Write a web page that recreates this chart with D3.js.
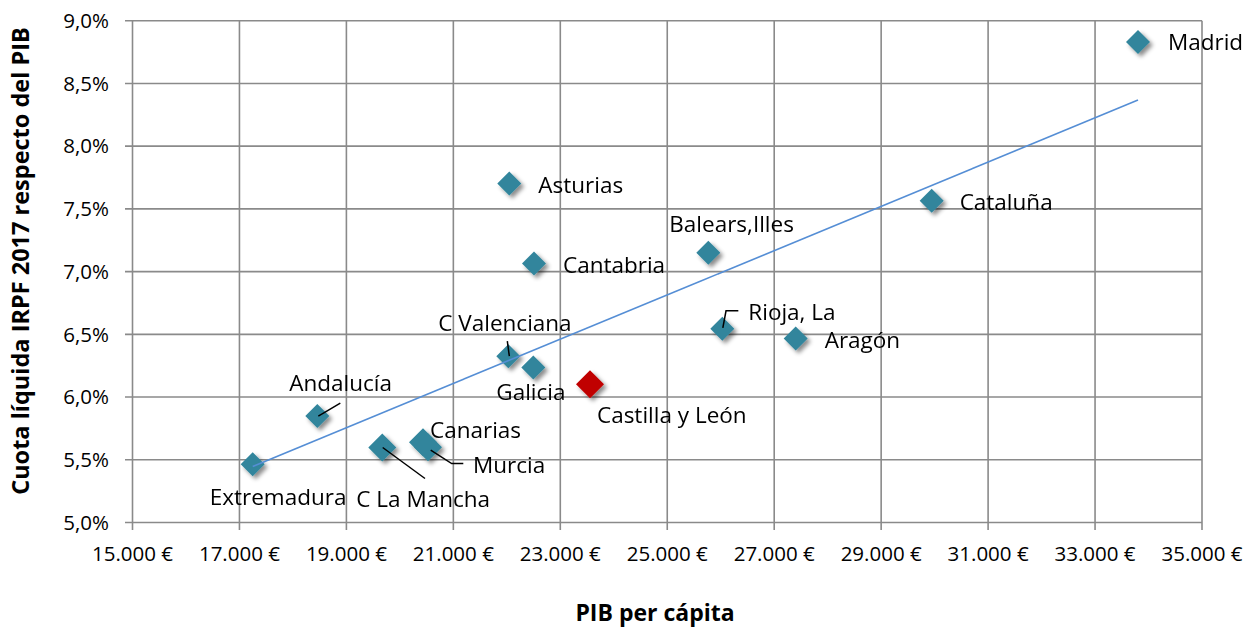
<!DOCTYPE html>
<head>
  <meta charset="utf-8">
  <title>Cuota líquida IRPF 2017 vs PIB per cápita</title>
  <script src="https://cdn.jsdelivr.net/npm/d3@7"></script>
  <style>
    body { margin: 0; background: #fff; }
    text { font-family: "Open Sans", sans-serif; fill: #000; }
  </style>
</head>
<body>
<svg id="chart" width="1259" height="628"></svg>
<script>
// comunidades, PIB per cápita (€) y cuota líquida IRPF (% del PIB)
var regions = ['Madrid', 'Extremadura', 'Andalucía', 'C La Mancha', 'Canarias', 'Murcia',
  'C Valenciana', 'Galicia', 'Castilla y León', 'Rioja, La', 'Aragón', 'Asturias',
  'Cantabria', 'Balears,Illes', 'Cataluña']
var pib = [33803, 17248, 18456, 19671, 20432, 20526,
  22028, 22495, 23555, 26030, 27402, 22046,
  22508, 25768, 29945]
var cuota = [8.83, 5.465, 5.848, 5.598, 5.64, 5.60,
  6.326, 6.236, 6.103, 6.544, 6.467, 7.703,
  7.065, 7.15, 7.565]
var highlight = 'Castilla y León'

var xTicks = d3.range(15000, 35001, 2000)
var yTicks = d3.range(5, 9.01, 0.5)

// label placement: [dx, dy] from the marker centre
var labelPos = {
  'Madrid': [30, 0], 'Asturias': [29, 2], 'Cantabria': [29, 2], 'Balears,Illes': [-39, -29],
  'Cataluña': [28, 1], 'Aragón': [29, 2], 'Rioja, La': [26, -17], 'C Valenciana': [-70, -33],
  'Galicia': [-37, 25], 'Castilla y León': [7, 31], 'Canarias': [7, -12], 'Murcia': [45, 18],
  'C La Mancha': [-26, 52], 'Extremadura': [-43, 33], 'Andalucía': [-28, -33]
}
var leaders = {
  'Andalucía': [[1, 0], [23, -13]],
  'C Valenciana': [[1, 0], [-1, -15]],
  'Rioja, La': [[0.5, -1], [3.7, -18], [16, -18]],
  'Murcia': [[2.7, 3], [23.7, 16.3], [35.3, 16.3]],
  'C La Mancha': [[0.4, 0], [42.7, 31]]
}
var bigOnes = ['C La Mancha', 'Canarias', 'Murcia', 'Castilla y León']

var data = regions.map(function (r, i) { return { name: r, x: pib[i], y: cuota[i] } })

var svg = d3.select('#chart')
var x = d3.scaleLinear().domain([15000, 35000]).range([132.5, 1202])
var y = d3.scaleLinear().domain([5, 9]).range([522.5, 20.7])

var defs = svg.append('defs')
defs.append('filter').attr('id', 'shadow')
  .attr('x', '-50%').attr('y', '-50%').attr('width', '200%').attr('height', '200%')
  .append('feDropShadow')
  .attr('dx', 3).attr('dy', 3).attr('stdDeviation', 2.2)
  .attr('flood-color', '#000').attr('flood-opacity', 0.45)

var grid = '#8a8a8a'

// grid + ticks
svg.append('g').selectAll('line').data(yTicks).enter().append('line')
  .attr('x1', 125).attr('x2', x.range()[1])
  .attr('y1', function (d) { return y(d) }).attr('y2', function (d) { return y(d) })
  .attr('stroke', grid).attr('stroke-width', 1.6)
svg.append('g').selectAll('line').data(xTicks).enter().append('line')
  .attr('x1', function (d) { return x(d) }).attr('x2', function (d) { return x(d) })
  .attr('y1', y.range()[1]).attr('y2', 530)
  .attr('stroke', grid).attr('stroke-width', 1.6)

var fmtX = function (d) { return d3.format(',')(d).replace(/,/g, '.') + ' €' }
var fmtY = function (d) { return d.toFixed(1).replace('.', ',') + '%' }

svg.append('g').selectAll('text').data(yTicks).enter().append('text')
  .attr('x', 109).attr('y', function (d) { return y(d) }).attr('dy', '0.35em')
  .attr('text-anchor', 'end').style('font-size', '20.5px')
  .text(fmtY)
svg.append('g').selectAll('text').data(xTicks).enter().append('text')
  .attr('x', function (d) { return x(d) }).attr('y', 554).attr('dy', '0.35em')
  .attr('text-anchor', 'middle').style('font-size', '20.5px')
  .text(fmtX)

// axis titles
svg.append('text').attr('x', 655).attr('y', 613).attr('dy', '0.35em')
  .attr('text-anchor', 'middle').style('font-size', '23px').style('font-weight', 'bold')
  .text('PIB per cápita')
svg.append('text').attr('transform', 'translate(21,261) rotate(-90)').attr('dy', '0.35em')
  .attr('text-anchor', 'middle').style('font-size', '23.5px').style('font-weight', 'bold')
  .text('Cuota líquida IRPF 2017 respecto del PIB')

// markers
function diamond(r) { return 'M0,' + (-r) + 'L' + r + ',0L0,' + r + 'L' + (-r) + ',0Z' }
svg.append('g').attr('filter', 'url(#shadow)').selectAll('path').data(data).enter().append('path')
  .attr('transform', function (d) { return 'translate(' + x(d.x) + ',' + y(d.y) + ')' })
  .attr('d', function (d) { return diamond(bigOnes.indexOf(d.name) >= 0 ? 14 : 12) })
  .attr('fill', function (d) { return d.name == highlight ? '#c00000' : '#31859c' })

// linear trend (least squares)
var mx = d3.mean(pib), my = d3.mean(cuota)
var slope = d3.sum(pib, function (v, i) { return (v - mx) * (cuota[i] - my) }) /
  d3.sum(pib, function (v) { return (v - mx) * (v - mx) })
var x0 = d3.min(pib), x1 = d3.max(pib)
svg.append('line')
  .attr('x1', x(x0)).attr('y1', y(my + slope * (x0 - mx)))
  .attr('x2', x(x1)).attr('y2', y(my + slope * (x1 - mx)))
  .attr('stroke', '#558ed5').attr('stroke-width', 1.6)

// leader lines
svg.append('g').selectAll('path').data(data.filter(function (d) { return leaders[d.name] })).enter()
  .append('path')
  .attr('d', function (d) {
    return d3.line()(leaders[d.name].map(function (p) { return [x(d.x) + p[0], y(d.y) + p[1]] }))
  })
  .attr('fill', 'none').attr('stroke', '#000').attr('stroke-width', 1.5)

// labels
svg.append('g').selectAll('text').data(data).enter().append('text')
  .attr('x', function (d) { return x(d.x) + labelPos[d.name][0] })
  .attr('y', function (d) { return y(d.y) + labelPos[d.name][1] })
  .attr('dy', '0.35em').style('font-size', '22.5px')
  .text(function (d) { return d.name })
</script>
</body>
